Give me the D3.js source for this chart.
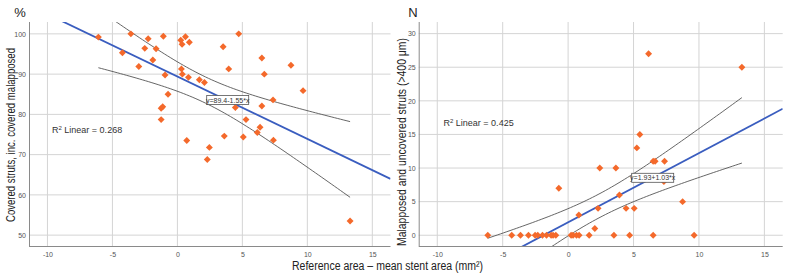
<!DOCTYPE html>
<html>
<head>
<meta charset="utf-8">
<script src="https://cdn.jsdelivr.net/npm/d3@7"></script>
<style>
  body { margin: 0; background: #fff; }
  svg { display: block; font-family: "Liberation Sans", Arial, sans-serif; }
  .grid line { stroke: #d4d4d4; stroke-width: 1; }
  .axis path, .axis line { stroke: #8a8a8a; }
  .tick text { fill: #555; font-size: 7px; }
  .title { fill: #222; font-family: "Liberation Sans Narrow", "Liberation Sans", Arial, sans-serif; }
</style>
</head>
<body>
<div id="chart"></div>
<script>
// x = reference area - mean stent area (mm2), y = covered struts (%)
const leftX = [-6.08, -4.23, -3.58, -2.97, -2.51, -2.25, -1.89, -1.64, -1.25, -1.13, -1.25, -1.08, -0.95, -0.72,
  0.26, 0.36, 0.62, 0.92, 0.31, 0.38, 0.85, 0.72, 1.69, 2.08, 2.3, 2.46, 3.52, 3.61, 3.95, 4.46, 4.72,
  5.07, 5.28, 6.15, 6.36, 6.5, 6.5, 6.69, 7.36, 7.39, 8.74, 9.67, 13.29];
const leftY = [99.2, 95.3, 100, 91.9, 96.4, 98.8, 93.5, 96.3, 81.5, 81.9, 78.7, 99.4, 89.8, 85.0,
  98.4, 97.4, 99.3, 97.9, 91.3, 90.0, 89.2, 73.5, 88.6, 87.9, 68.8, 71.8, 96.8, 74.6, 91.3, 81.7, 100,
  74.4, 78.7, 75.5, 76.8, 94.0, 82.1, 90.0, 83.6, 73.6, 92.2, 85.9, 53.5];

// x = same, y = malapposed and uncovered struts (N)
const rightX = [-6.14, -4.31, -3.64, -3.03, -2.52, -2.32, -1.96, -1.65, -1.30, -1.15, -0.94, 0.23, 0.38, 0.64,
  0.84, 1.61, 3.50, 4.70, 6.50, 9.63, -0.71, 0.82, 2.04, 2.29, 2.42, 3.65, 3.92, 4.43, 5.05, 5.25, 5.48,
  6.15, 6.50, 6.65, 7.37, 7.32, 8.75, 13.28];
const rightY = [0, 0, 0, 0, 0, 0, 0, 0, 0, 0, 0, 0, 0, 0,
  0, 0, 0, 0, 0, 0, 7, 3, 1, 4, 10, 10, 6, 4, 4, 13, 15,
  27, 11, 11, 11, 8, 5, 25];

const xTicks = [-10, -5, 0, 5, 10, 15];
const leftTicks = [50, 60, 70, 80, 90, 100];
const rightTicks = [0, 5, 10, 15, 20, 25, 30];

// fitted lines as printed on the chart (t = multiplier for the mean band)
const leftFit = { a: 89.4, b: -1.55, label: 'y=89.4-1.55*x', r2: '0.268', t: 2.35 };
const rightFit = { a: 1.93, b: 1.03, label: 'y=1.93+1.03*x', r2: '0.425', t: 2.03 };

const W = 787, H = 274;
const svg = d3.select('#chart').append('svg').attr('width', W).attr('height', H);

function panel(cfg) {
  const { xs, ys, fit, yDomain, yTicks, left, right, top, bottom, id } = cfg;
  const x = d3.scaleLinear([-11.42, 16.4], [left, right]);
  const y = d3.scaleLinear(yDomain, [bottom, top]);
  const g = svg.append('g');

  svg.append('clipPath').attr('id', id)
    .append('rect').attr('x', left).attr('y', top).attr('width', right - left).attr('height', bottom - top);

  // grid
  const grid = g.append('g').attr('class', 'grid');
  grid.selectAll('line.v').data(xTicks).join('line').attr('class', 'v')
    .attr('x1', d => x(d)).attr('x2', d => x(d)).attr('y1', top).attr('y2', bottom);
  grid.selectAll('line.h').data(yTicks).join('line').attr('class', 'h')
    .attr('x1', left).attr('x2', right).attr('y1', d => y(d)).attr('y2', d => y(d));

  // axes
  g.append('g').attr('class', 'axis').attr('transform', `translate(0,${bottom})`)
    .call(d3.axisBottom(x).tickValues(xTicks).tickFormat(d => String(d)).tickSize(0).tickPadding(6))
    .call(s => s.select('.domain').attr('d', `M${left},0.5H${right}`));
  g.append('g').attr('class', 'axis').attr('transform', `translate(${left},0)`)
    .call(d3.axisLeft(y).tickValues(yTicks).tickFormat(d => String(d)).tickSize(0).tickPadding(3))
    .call(s => s.select('.domain').attr('d', `M0.5,${top}V${bottom}`));

  // confidence band for mean, around printed fit
  const n = xs.length, mx = d3.mean(xs);
  const sxx = d3.sum(xs, v => (v - mx) ** 2);
  const sse = d3.sum(xs, (v, i) => (ys[i] - (fit.a + fit.b * v)) ** 2);
  const s = Math.sqrt(sse / (n - 2));
  const [x0, x1] = d3.extent(xs);
  const steps = d3.range(0, 81).map(i => x0 + (x1 - x0) * i / 80);
  const hw = v => fit.t * s * Math.sqrt(1 / n + (v - mx) ** 2 / sxx);
  const line = d3.line().x(d => x(d[0])).y(d => y(d[1]));
  const clip = g.append('g').attr('clip-path', `url(#${id})`);
  [1, -1].forEach(sign => {
    clip.append('path').datum(steps.map(v => [v, fit.a + fit.b * v + sign * hw(v)]))
      .attr('d', line).attr('fill', 'none').attr('stroke', '#555').attr('stroke-width', 0.9);
  });
  clip.append('path').datum(x.domain().map(v => [v, fit.a + fit.b * v]))
    .attr('d', line).attr('fill', 'none').attr('stroke', '#3a5dbf').attr('stroke-width', 1.8);

  // points
  g.selectAll('path.pt').data(xs.map((v, i) => [v, ys[i]])).join('path').attr('class', 'pt')
    .attr('d', d3.symbol(d3.symbolSquare, 24))
    .attr('transform', d => `translate(${x(d[0])},${y(d[1])}) rotate(45)`)
    .attr('fill', '#f4692b');

  // equation label
  const lab = g.append('g').attr('transform', `translate(${cfg.labX},${cfg.labY})`);
  lab.append('rect').attr('width', 42).attr('height', 9).attr('fill', '#fff').attr('stroke', '#555').attr('stroke-width', 0.8);
  lab.append('text').attr('x', 21).attr('y', 7).attr('text-anchor', 'middle')
    .attr('font-size', 7).attr('fill', '#333').text(fit.label);

  // R2 label
  const r = g.append('text').attr('x', cfg.r2X).attr('y', cfg.r2Y).attr('font-size', 9).attr('fill', '#333');
  r.append('tspan').text('R');
  r.append('tspan').attr('dy', -3.5).attr('font-size', 6).text('2');
  r.append('tspan').attr('dy', 3.5).text(' Linear = ' + fit.r2);
}

panel({ id: 'cl', xs: leftX, ys: leftY, fit: leftFit, yDomain: [47.3, 102.95], yTicks: leftTicks,
  left: 29, right: 390.5, top: 22, bottom: 246, labX: 206.7, labY: 95.5, r2X: 52, r2Y: 133 });
panel({ id: 'cr', xs: rightX, ys: rightY, fit: rightFit, yDomain: [-1.6, 31.73], yTicks: rightTicks,
  left: 418.7, right: 782.7, top: 22, bottom: 246, labX: 631.7, labY: 173.3, r2X: 443.5, r2Y: 126 });

// titles
svg.append('text').attr('x', 20).attr('y', 17).attr('text-anchor', 'middle')
  .attr('font-size', 13).attr('fill', '#222').text('%');
svg.append('text').attr('x', 413).attr('y', 17).attr('text-anchor', 'middle')
  .attr('font-size', 13).attr('fill', '#222').text('N');
svg.append('text').attr('class', 'title').attr('transform', 'translate(15,135) rotate(-90)')
  .attr('text-anchor', 'middle').attr('font-size', 12)
  .attr('textLength', 174).attr('lengthAdjust', 'spacingAndGlyphs')
  .text('Covered struts, inc. covered malapposed');
svg.append('text').attr('class', 'title').attr('transform', 'translate(405.5,142) rotate(-90)')
  .attr('text-anchor', 'middle').attr('font-size', 12)
  .attr('textLength', 208).attr('lengthAdjust', 'spacingAndGlyphs')
  .text('Malapposed and uncovered struts (>400 μm)');
svg.append('text').attr('x', 387.5).attr('y', 270).attr('text-anchor', 'middle')
  .attr('font-size', 12).attr('fill', '#222')
  .attr('textLength', 191).attr('lengthAdjust', 'spacingAndGlyphs')
  .text('Reference area – mean stent area (mm²)');
</script>
</body>
</html>
